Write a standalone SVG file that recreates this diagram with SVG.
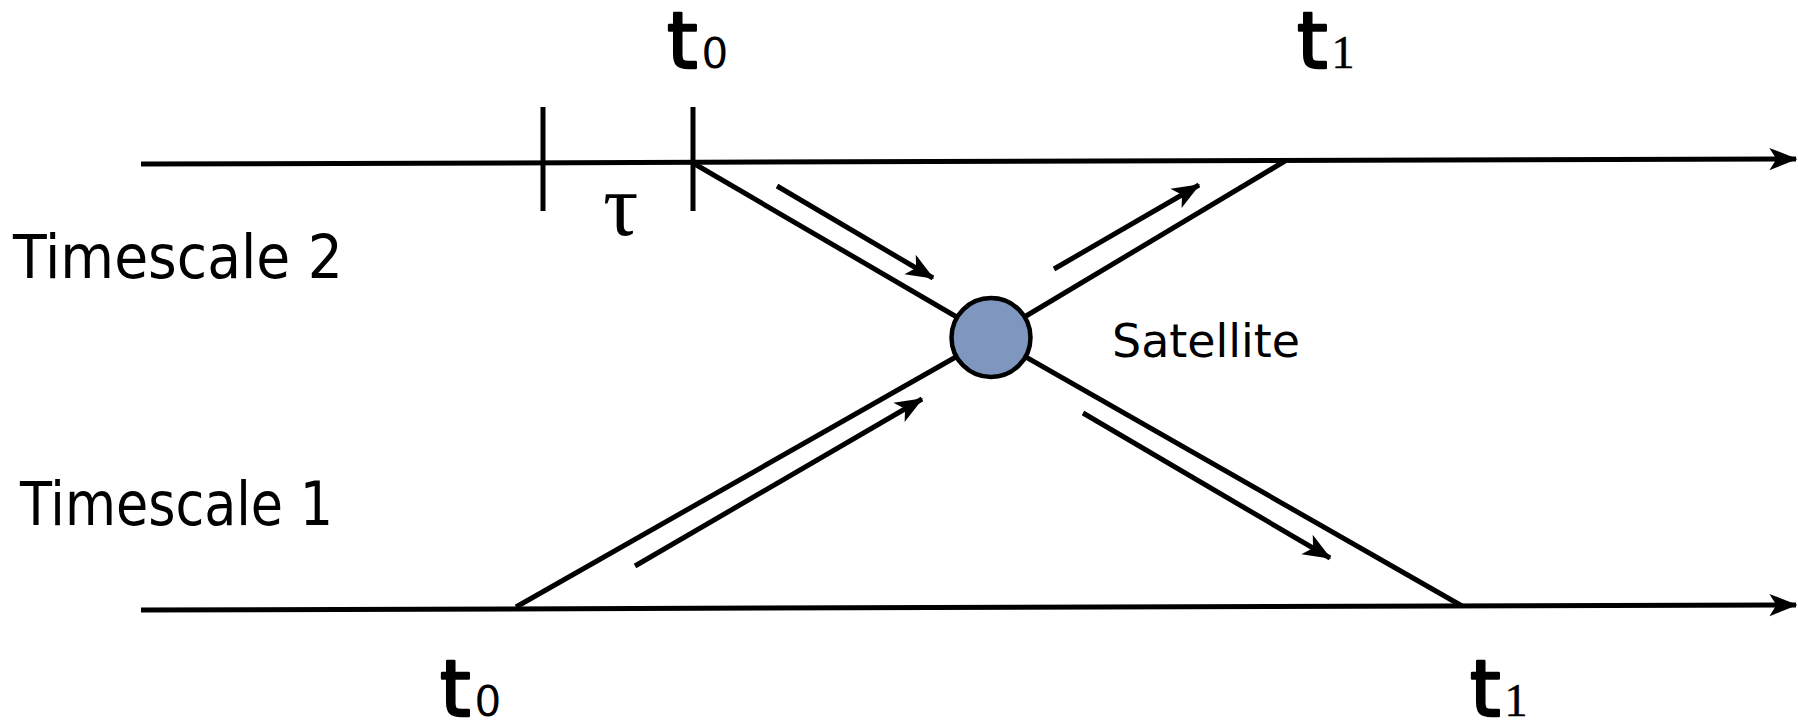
<svg xmlns="http://www.w3.org/2000/svg" width="1798" height="720" viewBox="0 0 1798 720">
<style>
.ln{stroke:#000;stroke-width:5;fill:none;stroke-linecap:butt}
.ar{stroke:#000;stroke-width:5;fill:none;marker-end:url(#ah)}
.lbl{font-family:"DejaVu Sans","Open Sans",sans-serif;fill:#000}
.tt{font-family:"DejaVu Sans",sans-serif;font-size:78px;fill:#000;stroke:#000;stroke-width:2.5;stroke-linejoin:round}
.sub{font-size:42px;stroke-width:0}
.sub1{font-family:"Liberation Serif",serif;font-size:46px;stroke-width:0.5}
</style>
<defs>
<marker id="ah" viewBox="0 0 20 20" refX="19" refY="10" markerWidth="28" markerHeight="28" markerUnits="userSpaceOnUse" orient="auto">
<path d="M0,2 L20,10 L0,18 L5,10 Z" fill="#000"/>
</marker>
</defs>
<rect width="1798" height="720" fill="#fff"/>
<g id="connectors">
<line class="ar" x1="141" y1="164" x2="1796" y2="159"/>
<line class="ar" x1="141" y1="610" x2="1796" y2="605"/>
<line class="ln" x1="543" y1="107" x2="543" y2="211"/>
<line class="ln" x1="693" y1="107" x2="693" y2="211"/>
<line class="ln" x1="693" y1="163" x2="991" y2="337"/>
<line class="ln" x1="1285" y1="161" x2="991" y2="337"/>
<line class="ln" x1="516" y1="607" x2="991" y2="337"/>
<line class="ln" x1="1462" y1="606" x2="991" y2="337"/>
<line class="ar" x1="777" y1="186" x2="933" y2="278"/>
<line class="ar" x1="1054" y1="269" x2="1199" y2="185"/>
<line class="ar" x1="635" y1="566" x2="922" y2="399"/>
<line class="ar" x1="1083" y1="413" x2="1330" y2="558"/>
</g>
<g id="satellite">
<circle cx="991" cy="337.5" r="39.5" fill="#7f97bf" stroke="#000" stroke-width="4.5"/>
<text class="lbl" x="1112" y="357" font-size="46" textLength="188" lengthAdjust="spacingAndGlyphs">Satellite</text>
</g>
<g id="timescale2-label">
<text class="lbl" x="13" y="278" font-size="60" textLength="330" lengthAdjust="spacingAndGlyphs">Timescale  2</text>
</g>
<g id="timescale1-label">
<text class="lbl" x="20" y="525" font-size="60" textLength="313" lengthAdjust="spacingAndGlyphs">Timescale 1</text>
</g>
<g id="tau">
<text x="603" y="235" font-family="Liberation Serif, serif" font-size="88" fill="#000">τ</text>
</g>
<g id="t0-top">
<text class="tt" x="667" y="68">t<tspan class="sub" dx="4">0</tspan></text>
</g>
<g id="t1-top">
<text class="tt" x="1297" y="68">t<tspan class="sub1" dx="4">1</tspan></text>
</g>
<g id="t0-bottom">
<text class="tt" x="440" y="716">t<tspan class="sub" dx="4">0</tspan></text>
</g>
<g id="t1-bottom">
<text class="tt" x="1470" y="716">t<tspan class="sub1" dx="4">1</tspan></text>
</g>
</svg>
